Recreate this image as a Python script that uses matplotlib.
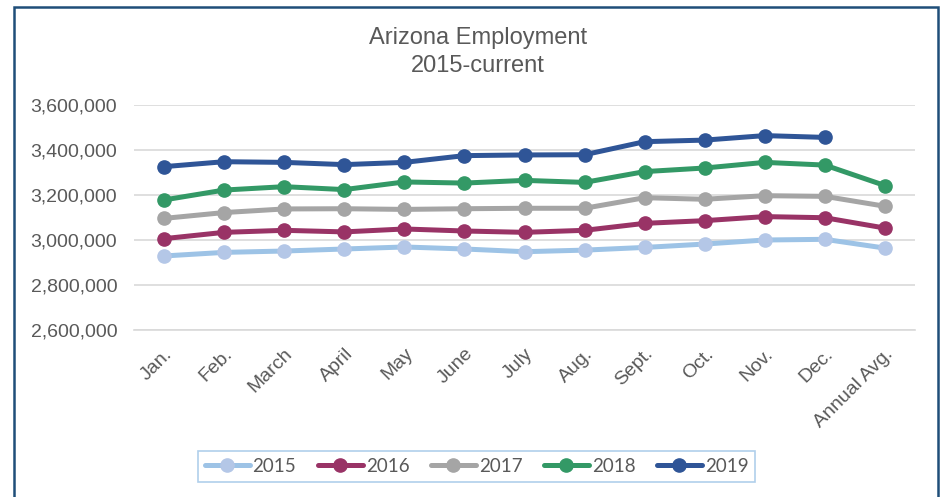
import matplotlib
matplotlib.use("Agg")
import matplotlib.pyplot as plt
import matplotlib.transforms as mtransforms
from matplotlib.patches import Rectangle
from matplotlib.ticker import FuncFormatter

# categories
months = ["Jan.", "Feb.", "March", "April", "May", "June", "July", "Aug.",
          "Sept.", "Oct.", "Nov.", "Dec.", "Annual Avg."]

# employment by year
emp_2015 = [2929000, 2945000, 2951000, 2960000, 2969000, 2960000, 2948000,
            2955000, 2967000, 2982000, 3000000, 3003000, 2964000]
emp_2016 = [3006000, 3034000, 3043000, 3036000, 3049000, 3040000, 3034000,
            3043000, 3074000, 3086000, 3104000, 3099000, 3053000]
emp_2017 = [3096000, 3122000, 3138000, 3139000, 3136000, 3139000, 3141000,
            3141000, 3188000, 3181000, 3197000, 3194000, 3150000]
emp_2018 = [3178000, 3222000, 3237000, 3224000, 3258000, 3253000, 3265000,
            3256000, 3304000, 3320000, 3345000, 3333000, 3242000]
emp_2019 = [3326000, 3348000, 3345000, 3335000, 3345000, 3375000, 3378000,
            3379000, 3437000, 3444000, 3464000, 3456000]

years = ["2015", "2016", "2017", "2018", "2019"]
series = [emp_2015, emp_2016, emp_2017, emp_2018, emp_2019]
line_colors = ["#9DC3E6", "#993366", "#A5A5A5", "#339966", "#2F5597"]
marker_colors = ["#B4C7E7", "#993366", "#A5A5A5", "#339966", "#2F5597"]

txt = "#595959"
plt.rcParams["font.family"] = ["Liberation Sans", "DejaVu Sans"]

fig = plt.figure(figsize=(9.44, 4.97), dpi=100)
ax = fig.add_axes([134 / 944, 1 - 330 / 497, 781 / 944, 225 / 497])

for name, vals, lc, mc in zip(years, series, line_colors, marker_colors):
    ax.plot(range(len(vals)), vals, color=lc, lw=3.6, marker="o", ms=9.5,
            mfc=mc, mec=mc, label=name, solid_capstyle="round", zorder=3)

ax.set_xlim(-0.5, len(months) - 0.5)
ax.set_ylim(2600000, 3600000)
ax.set_yticks(range(2600000, 3600001, 200000))
ax.yaxis.set_major_formatter(FuncFormatter(lambda v, p: f"{int(v):,}"))
ax.set_xticks(range(len(months)))
ax.set_xticklabels(months, rotation=45, ha="right", rotation_mode="anchor")

# nudge the slanted labels a bit to the right, like Excel
shift = mtransforms.ScaledTranslation(7 / 100, 0, fig.dpi_scale_trans)
for lbl in ax.get_xticklabels():
    lbl.set_transform(lbl.get_transform() + shift)

ax.grid(axis="y", color="#D9D9D9", lw=1.2)
ax.set_axisbelow(True)
for s in ["top", "right", "left"]:
    ax.spines[s].set_visible(False)
ax.spines["bottom"].set_color("#D9D9D9")
ax.spines["bottom"].set_linewidth(1.2)
ax.tick_params(axis="y", length=0, pad=12, labelsize=14, labelcolor=txt)
ax.tick_params(axis="x", length=0, pad=11, labelsize=14, labelcolor=txt)

fig.text(0.506, 1 - 52 / 497, "Arizona Employment\n2015-current",
         ha="center", va="center", fontsize=17, color=txt, linespacing=1.4)

leg = fig.legend(loc="center", bbox_to_anchor=(476.5 / 944, 1 - 466.5 / 497),
                 ncol=5, frameon=True, fancybox=False,
                 handlelength=2.4, handletextpad=0.15, columnspacing=1.15,
                 borderpad=0.35, prop={"family": ["Lato", "DejaVu Sans"], "size": 13.5})
leg.get_frame().set_edgecolor("#9DC3E6")
leg.get_frame().set_linewidth(1.2)
for t in leg.get_texts():
    t.set_color(txt)

# outer chart border (bottom edge cut off in the screenshot)
fig.patches.append(Rectangle((14 / 944, -0.1), (938 - 14) / 944, 1.1 - 7 / 497,
                             transform=fig.transFigure, fill=False,
                             edgecolor="#1F4E79", lw=1.8))

fig.savefig("out.png", dpi=100)
